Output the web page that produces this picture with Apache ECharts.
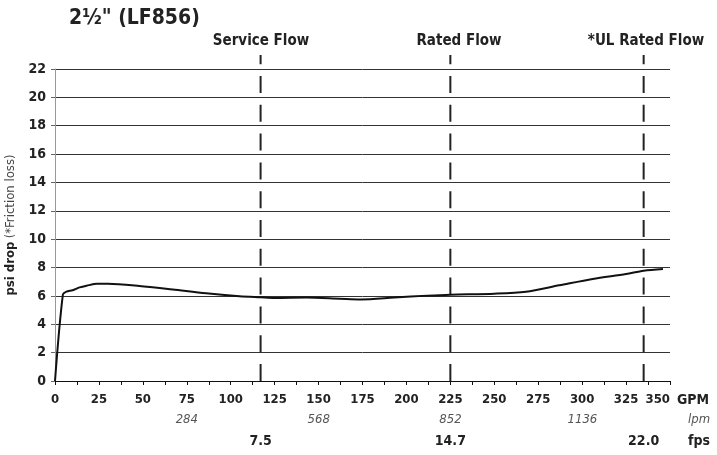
<!DOCTYPE html>
<html><head><meta charset="utf-8">
<script src="https://cdn.jsdelivr.net/npm/echarts@6/dist/echarts.min.js"></script>
<style>html,body{margin:0;padding:0;background:#fff}#c{width:717px;height:455px}</style>
</head><body><div id="c"></div>
<script>
const FONT = '"DejaVu Sans Condensed","Liberation Sans Narrow","Liberation Sans",sans-serif';
const titleText = '2½" (LF856)';
const flowNames = ['Service Flow', 'Rated Flow', '*UL Rated Flow'];
const flowGpm = [117, 225, 335];
const flowFps = ['7.5', '14.7', '22.0'];
const lpmTicks = [284, 568, 852, 1136];
const curve = [[0,0],[4.5,6.1],[6.5,6.3],[10,6.4],[14,6.6],[18,6.72],[24,6.85],[30,6.85],[48,6.7],[67,6.45],[86,6.18],[105,5.98],[117,5.9],[125,5.85],[143,5.88],[162,5.8],[174,5.75],[193,5.88],[212,6.02],[225,6.09],[250,6.16],[268,6.3],[287,6.75],[306,7.2],[325,7.55],[335,7.78],[346,7.9]];
const flowLabelCenters = [256, 454, 641];

const chart = echarts.init(document.getElementById('c'), null, {renderer:'canvas'});
const titles = [{text: titleText, left: 64, top: 3, textStyle:{fontFamily:FONT, fontSize:21, fontWeight:'bold', color:'#222'}}];
flowNames.forEach((n,i)=>titles.push({text:n, left: flowLabelCenters[i], textAlign:'center', top: 29, textStyle:{fontFamily:FONT, fontSize:15, fontWeight:'bold', color:'#222'}}));

const option = {
  animation:false,
  title: titles,
  grid:[{left:55, right:47, top:69, bottom:74, outerBoundsMode:'none'}, {left:55, right:47, top:55, bottom:74, outerBoundsMode:'none'}],
  xAxis:[
    {type:'value', gridIndex:0, min:0, max:350, interval:25,
     axisLine:{show:true, lineStyle:{color:'#111', width:1}},
     axisTick:{show:true, length:4, lineStyle:{color:'#111'}},
     minorTick:{show:true, splitNumber:2, length:4, lineStyle:{color:'#111'}},
     splitLine:{show:false},
     axisLabel:{fontFamily:FONT, fontSize:13, fontWeight:'bold', color:'#222', margin:12, alignMaxLabel:'right'},
     name:'GPM', nameLocation:'end', nameGap:7, nameMoveOverlap:false,
     nameTextStyle:{fontFamily:FONT, fontSize:14, fontWeight:'bold', color:'#222', align:'left', verticalAlign:'top', padding:[12,0,0,0]}},
    {type:'value', gridIndex:0, min:0, max:350*3.785, position:'bottom', offset:32,
     axisLine:{show:false}, axisTick:{show:false}, splitLine:{show:false},
     axisLabel:{customValues: lpmTicks, formatter:(v)=>String(v), fontFamily:FONT, fontSize:13, fontStyle:'italic', color:'#555', margin:0},
     name:'lpm', nameLocation:'end', nameGap:0, nameMoveOverlap:false,
     nameTextStyle:{fontFamily:FONT, fontSize:13, fontStyle:'italic', color:'#555', align:'left', verticalAlign:'top', padding:[0,0,0,18]}},
    {type:'value', gridIndex:0, min:0, max:350, position:'bottom', offset:53,
     axisLine:{show:false}, axisTick:{show:false}, splitLine:{show:false},
     axisLabel:{customValues: flowGpm, formatter:(v)=>flowFps[flowGpm.indexOf(v)], fontFamily:FONT, fontSize:14, fontWeight:'bold', color:'#222', margin:0},
     name:'fps', nameLocation:'end', nameGap:0, nameMoveOverlap:false,
     nameTextStyle:{fontFamily:FONT, fontSize:14, fontWeight:'bold', color:'#222', align:'left', verticalAlign:'top', padding:[0,0,0,18]}},
    {type:'value', gridIndex:1, min:0, max:350, show:false}
  ],
  yAxis:[
    {type:'value', gridIndex:0, min:0, max:22, interval:2,
     axisLine:{show:true, lineStyle:{color:'#999', width:1}},
     axisTick:{show:true, length:4, lineStyle:{color:'#666'}},
     splitLine:{show:true, lineStyle:{color:'#333', width:1}},
     axisLabel:{fontFamily:FONT, fontSize:14, fontWeight:'bold', color:'#222', margin:9},
     name:'{b|psi drop} {n|(*Friction loss)}', nameLocation:'middle', nameGap:30,
     nameTextStyle:{rich:{b:{fontFamily:FONT, fontSize:13, fontWeight:'bold', color:'#222'}, n:{fontFamily:FONT, fontSize:13, color:'#444'}}}},
    {type:'value', gridIndex:1, min:0, max:1, show:false}
  ],
  series:[
    {type:'line', xAxisIndex:0, yAxisIndex:0, data:curve, showSymbol:false, smooth:0.3,
     lineStyle:{color:'#111', width:2}, z:5}
  ].concat(flowGpm.map(g=>({type:'line', xAxisIndex:3, yAxisIndex:1, data:[[g,0],[g,1]], showSymbol:false,
     lineStyle:{color:'#222', width:2, type:[17,11.8]}, z:4})))
};
chart.setOption(option);
</script></body></html>
